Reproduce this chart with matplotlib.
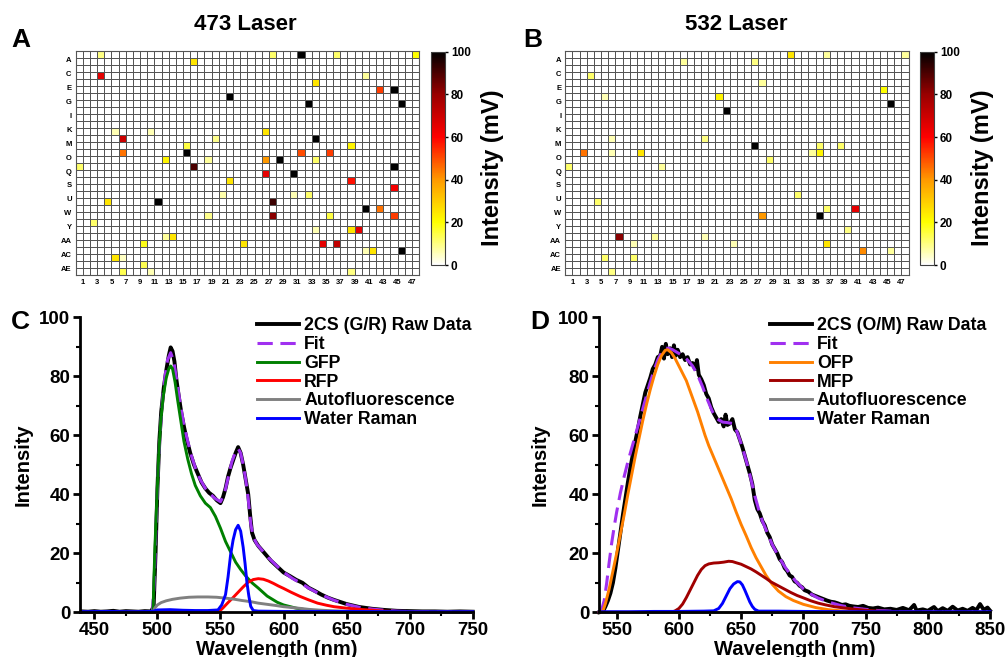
import numpy as np
import matplotlib.pyplot as plt
from matplotlib.colors import LinearSegmentedColormap
from matplotlib.ticker import MultipleLocator

plt.rcParams['font.family'] = ['Liberation Sans', 'DejaVu Sans']
plt.rcParams['font.weight'] = 'bold'

# ---- 1536-well plate screens (32 rows x 48 cols), wells above background ----
n_rows, n_cols = 32, 48
row_names = ['A', 'C', 'E', 'G', 'I', 'K', 'M', 'O', 'Q', 'S', 'U', 'W', 'Y', 'AA', 'AC', 'AE']
col_names = [str(c) for c in range(1, 48, 2)]

# 473 laser: (row, col, intensity mV)
a_rows = [0, 1, 3, 6, 12, 14, 14, 13, 16, 15, 16, 18, 21, 21, 24, 26, 26, 27, 27, 29, 29, 30, 31, 31,
          23, 12, 20, 15, 11, 11,
          0, 0, 0, 0, 4, 3, 5, 5, 7, 7, 11, 12, 13, 14, 14, 15, 15, 15, 16, 17, 17, 18, 19, 20, 20,
          21, 22, 22, 23, 23, 23, 25, 25, 27, 27, 28, 28, 31, 25, 28]
a_cols = [3, 16, 3, 21, 6, 6, 15, 15, 16, 12, 0, 21, 4, 11, 2, 13, 12, 9, 23, 5, 6, 9, 6, 10,
          18, 19, 20, 18, 5, 10,
          27, 31, 36, 47, 33, 40, 42, 44, 32, 45, 26, 33, 38, 31, 35, 26, 28, 33, 44, 26, 30, 38, 44, 32, 30,
          27, 40, 42, 27, 35, 44, 38, 39, 34, 36, 41, 45, 38, 33, 40]
a_vals = [10, 25, 65, 100, 70, 45, 100, 15, 90, 22, 12, 25, 25, 100, 12, 25, 8, 18, 25, 25, 5, 14, 14, 6,
          9, 9, 7, 8, 6, 6,
          12, 100, 12, 20, 25, 8, 52, 100, 100, 100, 25, 100, 22, 50, 52, 40, 100, 12, 100, 65, 100, 58, 62, 12, 6,
          92, 100, 45, 82, 15, 52, 25, 65, 65, 72, 25, 100, 10, 6, 6]

# 532 laser
b_rows = [1, 3, 6, 6, 8, 12, 12, 14, 14, 14, 16, 16, 21, 26, 26, 27, 29, 29, 31, 26,
          0, 1, 0, 0, 4, 5, 7, 13, 13, 13, 14, 14, 15, 20, 22, 22, 23, 23, 25, 27, 28, 28, 27]
b_cols = [16, 3, 5, 21, 22, 6, 19, 2, 10, 6, 0, 13, 4, 7, 12, 9, 5, 9, 6, 19,
          31, 26, 36, 47, 27, 44, 45, 26, 35, 38, 35, 34, 28, 32, 40, 36, 27, 35, 39, 36, 41, 45, 23]
b_vals = [8, 12, 6, 22, 100, 6, 10, 45, 25, 6, 12, 8, 12, 82, 8, 6, 12, 12, 10, 6,
          25, 10, 8, 8, 8, 20, 100, 100, 12, 12, 22, 8, 12, 12, 65, 12, 40, 100, 10, 25, 42, 8, 6]

# ---- spectra, panel C (473 laser, GFP/RFP pair) ----
c_raw_x = [440, 445, 450, 455, 460, 465, 470, 475, 480, 485, 490, 495, 497, 498.5, 500, 501.5, 503, 505, 507,
           509, 510.5, 512, 513.5, 515, 517, 519, 521, 523, 526, 529, 532, 535, 538, 541, 544, 547, 550,
           552, 554, 556, 558, 560, 562, 564, 566, 568, 570, 572, 573.5, 575, 577, 580, 583, 586, 590, 595,
           600, 605, 610, 615, 620, 625, 630, 635, 640, 645, 650, 655, 660, 665, 670, 675, 680, 690, 700,
           710, 720, 730, 740, 750]
c_raw_y = [0.3, 0.2, 0.4, 0.2, 0.3, 0.5, 0.2, 0.4, 0.3, 0.2, 0.4, 0.3, 2, 20, 42, 58, 68, 76, 82,
           87, 89.8, 88.5, 85, 79, 73, 67.5, 63, 59, 54, 50, 47, 44, 42, 40.5, 39.5, 38, 37,
           39, 42, 46, 49, 51.5, 54, 56, 54, 50, 45, 40, 33, 27, 24.5, 22.5, 21, 19.5, 17.5, 15.5,
           13.5, 12.3, 11, 10, 8.3, 7.2, 6, 5, 4.2, 3.5, 2.8, 2.3, 1.8, 1.5, 1.2, 1.0, 0.8, 0.5, 0.4,
           0.3, 0.3, 0.2, 0.3, 0.2]
c_fit_x = [440, 496, 497.5, 499, 500.5, 502, 504, 506, 508, 510.5, 513, 515, 518, 521, 524, 527, 530, 534,
           538, 542, 546, 550, 553, 556, 559, 562, 564, 566, 568, 570, 572, 574, 576, 579, 583, 588, 594,
           600, 607, 614, 620, 627, 634, 640, 650, 660, 670, 680, 690, 700, 720, 750]
c_fit_y = [0, 0, 10, 30, 47, 60, 72, 80, 85.5, 88, 85, 79.5, 71, 63.5, 58, 53, 49, 45,
           42, 40, 38.5, 37.5, 40, 45.5, 51, 54.5, 55.5, 54, 50, 45, 38.5, 30, 25.5, 23, 21, 18.5, 16,
           13.6, 11.5, 9.8, 8.2, 6.6, 5.2, 4.1, 2.7, 1.7, 1.1, 0.7, 0.4, 0.25, 0.1, 0.05]
gfp_x = [440, 496.5, 497, 498, 499.5, 501, 502.5, 504.5, 507, 509, 510.5, 512, 514, 516, 518.5, 521, 524,
         527, 530, 534, 538, 542, 546, 550, 554, 558, 562, 566, 570, 575, 580, 587, 595, 600, 610, 620,
         630, 640, 660, 750]
gfp_y = [0, 0, 8, 22, 38, 53, 64, 73, 79.5, 82.5, 83.5, 82.5, 78, 72, 65, 58, 52,
         47, 43, 39.5, 37, 35.5, 32.5, 28.5, 24, 20.5, 17, 14.5, 12.3, 10, 8.2, 5.5, 3.4, 2.5, 1.4, 0.7,
         0.35, 0.15, 0.05, 0]
rfp_x = [440, 547, 549, 552, 556, 560, 564, 568, 572, 576, 580, 584, 588, 592, 596, 600, 606, 613, 620,
         627, 634, 640, 650, 660, 670, 680, 695, 720, 750]
rfp_y = [0, 0, 0.3, 1.5, 3.3, 5, 6.8, 8.6, 10.2, 11.1, 11.4, 11.2, 10.6, 9.8, 8.9, 8.1, 6.8, 5.4, 4.2,
         3.1, 2.4, 1.9, 1.4, 1.0, 0.7, 0.4, 0.2, 0.05, 0]
c_auto_x = [440, 496.5, 498, 500, 503, 507, 512, 518, 525, 532, 540, 547, 554, 560, 567, 574, 580, 587,
            594, 600, 607, 614, 620, 630, 640, 655, 670, 700, 750]
c_auto_y = [0, 0, 1.5, 2.5, 3.3, 3.9, 4.4, 4.8, 5.1, 5.2, 5.2, 5.1, 4.8, 4.5, 4.0, 3.6, 3.1, 2.7,
            2.3, 1.9, 1.6, 1.3, 1.0, 0.7, 0.5, 0.3, 0.15, 0.05, 0]
c_water_x = [440, 460, 480, 496, 500, 510, 520, 530, 540, 548, 551, 554, 556, 558, 560, 562, 564, 566,
             568, 569.5, 571, 572.5, 574, 576, 580, 600, 650, 700, 750]
c_water_y = [0.2, 0.3, 0.2, 0.3, 0.8, 0.9, 0.7, 0.6, 0.6, 0.8, 2.5, 6, 12, 19.4, 24.5, 28, 29.5, 27.5,
             22, 16.5, 10, 5.5, 2, 0.6, 0.4, 0.3, 0.3, 0.2, 0.2]

# ---- spectra, panel D (532 laser, OFP/MFP pair) ----
d_raw_x = [536, 539, 541, 543, 545, 547, 549, 551, 553, 555, 557, 559, 561, 563, 565, 567, 569, 571, 573,
           575, 577, 579, 581, 583, 585, 586.5, 588, 589.5, 591, 593, 594.5, 596, 597.5, 599, 601, 603,
           605, 607, 609, 611, 613, 614.5, 616, 618, 620, 622, 624, 626, 628, 630, 632, 634, 636, 637.5,
           639, 641, 643, 645, 647, 649, 651, 653, 655, 657, 659, 661, 663, 665, 667, 669, 671, 673, 675,
           677, 679, 681, 683, 685, 687, 689, 691, 693, 695, 697, 699, 701, 704, 707, 710, 713, 716, 719,
           722, 725, 728, 731, 734, 737, 740, 744, 748, 752, 756, 760, 765, 770, 775, 780, 785, 789, 791,
           796, 800, 805, 808, 812, 816, 820, 824, 828, 832, 836, 839, 842, 845, 848, 850]
d_raw_y = [0, 0.3, 2, 4, 6.5, 10, 15, 21, 27, 33, 38.5, 44, 49, 53.5, 58, 62, 66.5, 70.5, 74.5,
           77, 79.5, 82.5, 84, 86.5, 87, 90, 86, 91, 87.5, 89.5, 86.5, 90.5, 87, 89, 86.5, 87.5,
           85.5, 86.5, 84, 84.5, 82.5, 85.5, 80.5, 79, 77, 74, 72.5, 69.5, 67.5, 66, 64.5, 65.5, 63, 67,
           63.5, 64, 65.5, 62, 61, 58.5, 56, 53, 50, 47, 43.5, 38, 35, 33.5, 31, 29.5, 27, 25.5, 23,
           21.5, 20, 18, 17, 15, 14, 12.5, 12, 10.5, 10, 9, 8.5, 7.5, 7, 6, 5.5, 5, 4.5, 4,
           3.6, 3.4, 3, 2.5, 2.7, 2.2, 2.0, 1.8, 2.2, 1.5, 1.3, 1.6, 1.0, 1.2, 0.8, 1.5, 0.7, 2.5, 0.6,
           1.0, 0.5, 1.8, 0.4, 1.4, 0.5, 1.9, 0.6, 1.2, 0.5, 1.5, 0.7, 2.8, 0.8, 1.6, 0.6]
d_fit_x = [536, 538, 540, 542, 544, 546, 548, 550, 553, 556, 559, 562, 565, 568, 571, 574, 577, 580, 583,
           586, 589, 592, 595, 599, 603, 607, 611, 615, 619, 623, 627, 631, 635, 639, 643, 646, 649, 652,
           655, 658, 661, 664, 667, 671, 675, 680, 685, 690, 695, 700, 706, 712, 720, 730, 740, 750, 760,
           775, 800, 850]
d_fit_y = [0, 1, 4, 10, 17, 23.5, 29, 34, 40.5, 46, 51, 55.5, 60, 64.5, 69, 73.5, 78, 82, 85.5,
           88, 89.5, 89.5, 89, 88, 87, 85.5, 83.5, 80.5, 76.5, 72, 68, 65.5, 64.5, 64.3, 64, 62, 58.5, 54.5,
           50, 45, 39.5, 35, 31, 27, 23, 19, 15.5, 12.5, 10, 8, 6.2, 4.8, 3.5, 2.3, 1.5, 1.0, 0.6,
           0.3, 0.1, 0]
ofp_x = [536, 539, 541, 544, 547, 550, 553, 556, 559, 562, 565, 568, 571, 574, 577, 580, 583, 586, 589,
         591, 594, 597, 600, 603, 606, 609, 612, 615, 618, 621, 624, 627, 630, 634, 638, 642, 646, 650,
         654, 658, 662, 666, 670, 675, 680, 686, 692, 700, 710, 720, 730, 740, 760, 850]
ofp_y = [0, 0.5, 3, 8, 14, 20, 26.5, 33, 40, 46.5, 53, 59, 65, 70.5, 75.5, 80, 84, 87, 88.8,
         89, 88, 86, 83.5, 81, 78.5, 75, 71.5, 68, 64, 60, 56.5, 53.5, 50.5, 46.5, 42.5, 38.5, 34, 29.8,
         26, 22, 18.5, 15.5, 12.5, 9.5, 7.2, 5.3, 4.0, 2.7, 1.6, 0.9, 0.5, 0.25, 0.05, 0]
mfp_x = [536, 594, 597, 600, 603, 606, 609, 612, 615, 618, 621, 624, 628, 632, 636, 640, 643, 646, 650,
         654, 658, 662, 666, 670, 674, 678, 682, 686, 690, 695, 700, 706, 712, 718, 725, 732, 740, 750,
         760, 775, 800, 850]
mfp_y = [0, 0, 0.5, 1.3, 2.8, 5, 7.5, 10, 12.5, 14.5, 15.8, 16.4, 16.7, 16.8, 17.0, 17.3, 17.2, 16.8, 16.3,
         15.5, 14.7, 13.7, 12.6, 11.5, 10.3, 9.4, 8.5, 7.6, 6.7, 5.7, 4.9, 3.9, 3.1, 2.5, 1.9, 1.5, 1.1, 0.7,
         0.4, 0.15, 0.05, 0]
d_auto_x = [536, 850]
d_auto_y = [0.1, 0.1]
d_water_x = [536, 560, 580, 600, 620, 628, 632, 635, 638, 641, 644, 647, 649, 651, 653, 655, 657, 659,
             661, 664, 680, 700, 750, 800, 850]
d_water_y = [0.2, 0.2, 0.3, 0.3, 0.4, 0.5, 1.3, 3, 5.5, 8, 9.6, 10.4, 10.3, 9.3, 7.5, 5.5, 3.5, 2,
             1, 0.4, 0.4, 0.3, 0.2, 0.2, 0.2]

W, H = 1006, 657
fig = plt.figure(figsize=(W / 100, H / 100), dpi=100)


def box(x0, y0, x1, y1):
    # pixel box (top-left origin) -> figure fraction rect
    return [x0 / W, 1 - y1 / H, (x1 - x0) / W, (y1 - y0) / H]


cmap = LinearSegmentedColormap.from_list(
    'heat', [(0, '#ffffff'), (0.2, '#ffff00'), (0.4, '#ff9900'),
             (0.6, '#ff0000'), (0.8, '#990000'), (1.0, '#000000')])


def plate(ax, cax, rows, cols, vals, lab_x):
    grid = np.zeros((n_rows, n_cols))
    grid[rows, cols] = vals
    mesh = ax.pcolormesh(np.arange(n_cols + 1), np.arange(n_rows + 1), grid, cmap=cmap,
                         vmin=0, vmax=100, edgecolors='#555555', linewidth=0.45)
    ax.set_xlim(0, n_cols)
    ax.set_ylim(n_rows, 0)
    ax.set_xticks(np.arange(1, 48, 2), col_names)
    ax.set_yticks(np.arange(len(row_names)) * 2 + 1.15, row_names)
    ax.tick_params(length=0, labelsize=5.5, pad=3)
    for s in ax.spines.values():
        s.set_color('#555555')
        s.set_linewidth(0.8)
    cb = fig.colorbar(mesh, cax=cax, ticks=range(0, 101, 20))
    cb.outline.set_edgecolor('#404040')
    cb.ax.tick_params(labelsize=8.5, length=2.5, width=1, pad=2)
    fig.text(lab_x / W, 1 - 168 / H, 'Intensity (mV)', rotation=90, ha='center', va='center',
             fontsize=17, fontweight='bold')


ax_a = fig.add_axes(box(75.7, 51.3, 419, 274.7))
cax_a = fig.add_axes(box(431, 51.7, 444.7, 265))
plate(ax_a, cax_a, a_rows, a_cols, a_vals, 493)
ax_b = fig.add_axes(box(565.3, 51.3, 908.6, 274.7))
cax_b = fig.add_axes(box(920, 51.7, 933.7, 265))
plate(ax_b, cax_b, b_rows, b_cols, b_vals, 983)

fig.text(245 / W, 1 - 30 / H, '473 Laser', ha='center', va='baseline', fontsize=16, fontweight='bold')
fig.text(736 / W, 1 - 30 / H, '532 Laser', ha='center', va='baseline', fontsize=16, fontweight='bold')
for letter, x, y in [('A', 11, 47), ('B', 523, 47), ('C', 11, 329), ('D', 530, 329)]:
    fig.text(x / W, 1 - y / H, letter, ha='left', va='baseline', fontsize=19, fontweight='bold')


def spectrum(ax, xlim, series, names, leg_x, ylab_x):
    for (x, y, color, ls, lw), name in zip(series, names):
        ax.plot(x, y, color=color, linestyle=ls, lw=lw, label=name, clip_on=False)
    ax.set_xlim(*xlim)
    ax.set_ylim(0, 100)
    ax.spines['top'].set_visible(False)
    ax.spines['right'].set_visible(False)
    ax.spines['left'].set_linewidth(2)
    ax.spines['bottom'].set_linewidth(2)
    ax.set_xticks(np.arange(xlim[0] + 50 - xlim[0] % 50, xlim[1] + 1, 50))
    ax.xaxis.set_minor_locator(MultipleLocator(25))
    ax.set_yticks(range(0, 101, 20))
    ax.yaxis.set_minor_locator(MultipleLocator(10))
    ax.tick_params(which='major', direction='out', length=5, width=2, labelsize=13.5, pad=2)
    ax.tick_params(which='minor', direction='out', length=3, width=1.5)
    ax.set_xlabel('Wavelength (nm)', fontsize=14.5, fontweight='bold')
    ax.xaxis.set_label_coords(0.5, -0.094)
    ax.set_ylabel('Intensity', fontsize=14.5, fontweight='bold')
    ax.yaxis.label.set_va('center')
    ax.yaxis.set_label_coords(ylab_x, 0.5)
    ax.legend(loc='upper left', bbox_to_anchor=(leg_x, 1.0), frameon=False,
              prop={'weight': 'bold', 'size': 12.8},
              handlelength=2.35, handletextpad=0.3, labelspacing=0.1, borderpad=0, borderaxespad=0)


ax_c = fig.add_axes(box(80, 317.3, 472.7, 612.3))
spectrum(ax_c, (438.6, 750),
         [(c_raw_x, c_raw_y, 'black', '-', 2.8),
          (c_fit_x, c_fit_y, '#a030f0', (0, (5, 2.5)), 2.2),
          (gfp_x, gfp_y, '#008000', '-', 2.1),
          (rfp_x, rfp_y, '#ff0000', '-', 2.1),
          (c_auto_x, c_auto_y, '#808080', '-', 2.1),
          (c_water_x, c_water_y, '#0000ff', '-', 2.1)],
         ['2CS (G/R) Raw Data', 'Fit', 'GFP', 'RFP', 'Autofluorescence', 'Water Raman'],
         0.451, -0.145)

ax_d = fig.add_axes(box(599, 317.3, 990, 612.3))
spectrum(ax_d, (535.8, 850),
         [(d_raw_x, d_raw_y, 'black', '-', 2.8),
          (d_fit_x, d_fit_y, '#a030f0', (0, (5, 2.5)), 2.2),
          (ofp_x, ofp_y, '#ff8000', '-', 2.1),
          (mfp_x, mfp_y, '#a00000', '-', 2.1),
          (d_auto_x, d_auto_y, '#808080', '-', 2.1),
          (d_water_x, d_water_y, '#0000ff', '-', 2.1)],
         ['2CS (O/M) Raw Data', 'Fit', 'OFP', 'MFP', 'Autofluorescence', 'Water Raman'],
         0.437, -0.151)

fig.savefig('out.png', dpi=100)
